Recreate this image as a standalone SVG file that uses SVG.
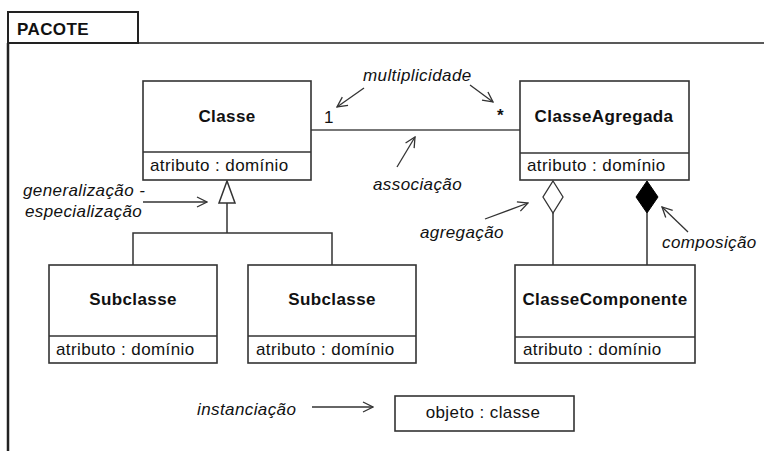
<svg xmlns="http://www.w3.org/2000/svg" width="764" height="451" viewBox="0 0 764 451">
<defs>
<marker id="open" viewBox="0 0 12 12" refX="11" refY="6" markerWidth="12" markerHeight="12" markerUnits="userSpaceOnUse" orient="auto">
<path d="M1,1 L11,6 L1,11" fill="none" stroke="#333" stroke-width="1.3"/>
</marker>
</defs>
<style>
.box{fill:#fff;stroke:#333;stroke-width:1.6}
.ln{fill:none;stroke:#333;stroke-width:1.5}
.assoc{fill:none;stroke:#777;stroke-width:2}
.note{fill:none;stroke:#333;stroke-width:1.3;marker-end:url(#open)}
.t{font-family:"Liberation Sans",Arial,sans-serif;font-size:17px;letter-spacing:0.4px;fill:#111}
.b{font-weight:bold}
.i{font-style:italic}
.c{text-anchor:middle}
</style>
<rect width="764" height="451" fill="#fff"/>
<g id="pacote">
<rect x="8" y="12" width="130" height="31" fill="#fff" stroke="#222" stroke-width="2"/>
<line x1="8" y1="43" x2="8" y2="451" stroke="#222" stroke-width="2.5"/>
<line x1="138" y1="43" x2="764" y2="43" stroke="#222" stroke-width="1.6"/>
<text class="t b" x="17" y="35">PACOTE</text>
</g>
<g id="connectors">
<line class="assoc" x1="311" y1="130" x2="520" y2="130"/>
<text class="t" x="324" y="123">1</text>
<text class="t b" x="497" y="121">*</text>
<polyline class="ln" points="227,203 227,233"/>
<polyline class="ln" points="133,265 133,233 332,233 332,265"/>
<polygon points="227,181 219,203 235,203" fill="#fff" stroke="#333" stroke-width="1.5"/>
<line class="ln" x1="553" y1="213" x2="553" y2="265"/>
<polygon points="553,181 563,197 553,213 543,197" fill="#fff" stroke="#333" stroke-width="1.3"/>
<line class="ln" x1="647" y1="213" x2="647" y2="265"/>
<polygon points="647,181 658,197 647,213 636,197" fill="#000" stroke="#000" stroke-width="1"/>
</g>
<g id="annotations">
<text class="t i" x="363" y="81">multiplicidade</text>
<line class="note" x1="364" y1="88" x2="337" y2="107"/>
<line class="note" x1="470" y1="85" x2="493" y2="102"/>
<text class="t i" x="373" y="190">associação</text>
<line class="note" x1="397" y1="167" x2="415" y2="137"/>
<text class="t i" x="23" y="196">generalização -</text>
<text class="t i" x="25" y="217">especialização</text>
<line class="note" x1="143" y1="202" x2="207" y2="202"/>
<text class="t i" x="420" y="238">agregação</text>
<line class="note" x1="485" y1="219" x2="528" y2="203"/>
<text class="t i" x="662" y="248">composição</text>
<line class="note" x1="688" y1="232" x2="662" y2="207"/>
<text class="t i" x="197" y="415">instanciação</text>
<line class="note" x1="312" y1="407" x2="373" y2="407"/>
</g>
<g id="classe">
<rect class="box" x="143" y="81" width="168" height="99"/>
<line class="ln" x1="143" y1="152" x2="311" y2="152"/>
<text class="t b c" x="227" y="122">Classe</text>
<text class="t" x="150" y="171">atributo : domínio</text>
</g>
<g id="classeAgregada">
<rect class="box" x="520" y="81" width="169" height="99"/>
<line class="ln" x1="520" y1="153" x2="689" y2="153"/>
<text class="t b c" x="604" y="122">ClasseAgregada</text>
<text class="t" x="527" y="171">atributo : domínio</text>
</g>
<g id="subclasse1">
<rect class="box" x="49" y="265" width="168" height="98"/>
<line class="ln" x1="49" y1="336" x2="217" y2="336"/>
<text class="t b c" x="133" y="305">Subclasse</text>
<text class="t" x="56" y="355">atributo : domínio</text>
</g>
<g id="subclasse2">
<rect class="box" x="248" y="265" width="168" height="98"/>
<line class="ln" x1="248" y1="336" x2="416" y2="336"/>
<text class="t b c" x="332" y="305">Subclasse</text>
<text class="t" x="256" y="355">atributo : domínio</text>
</g>
<g id="classeComponente">
<rect class="box" x="515" y="265" width="180" height="98"/>
<line class="ln" x1="515" y1="337" x2="695" y2="337"/>
<text class="t b c" x="605" y="305">ClasseComponente</text>
<text class="t" x="523" y="355">atributo : domínio</text>
</g>
<g id="objeto">
<rect class="box" x="395" y="396" width="179" height="35"/>
<text class="t c" x="483" y="418">objeto : classe</text>
</g>
</svg>
